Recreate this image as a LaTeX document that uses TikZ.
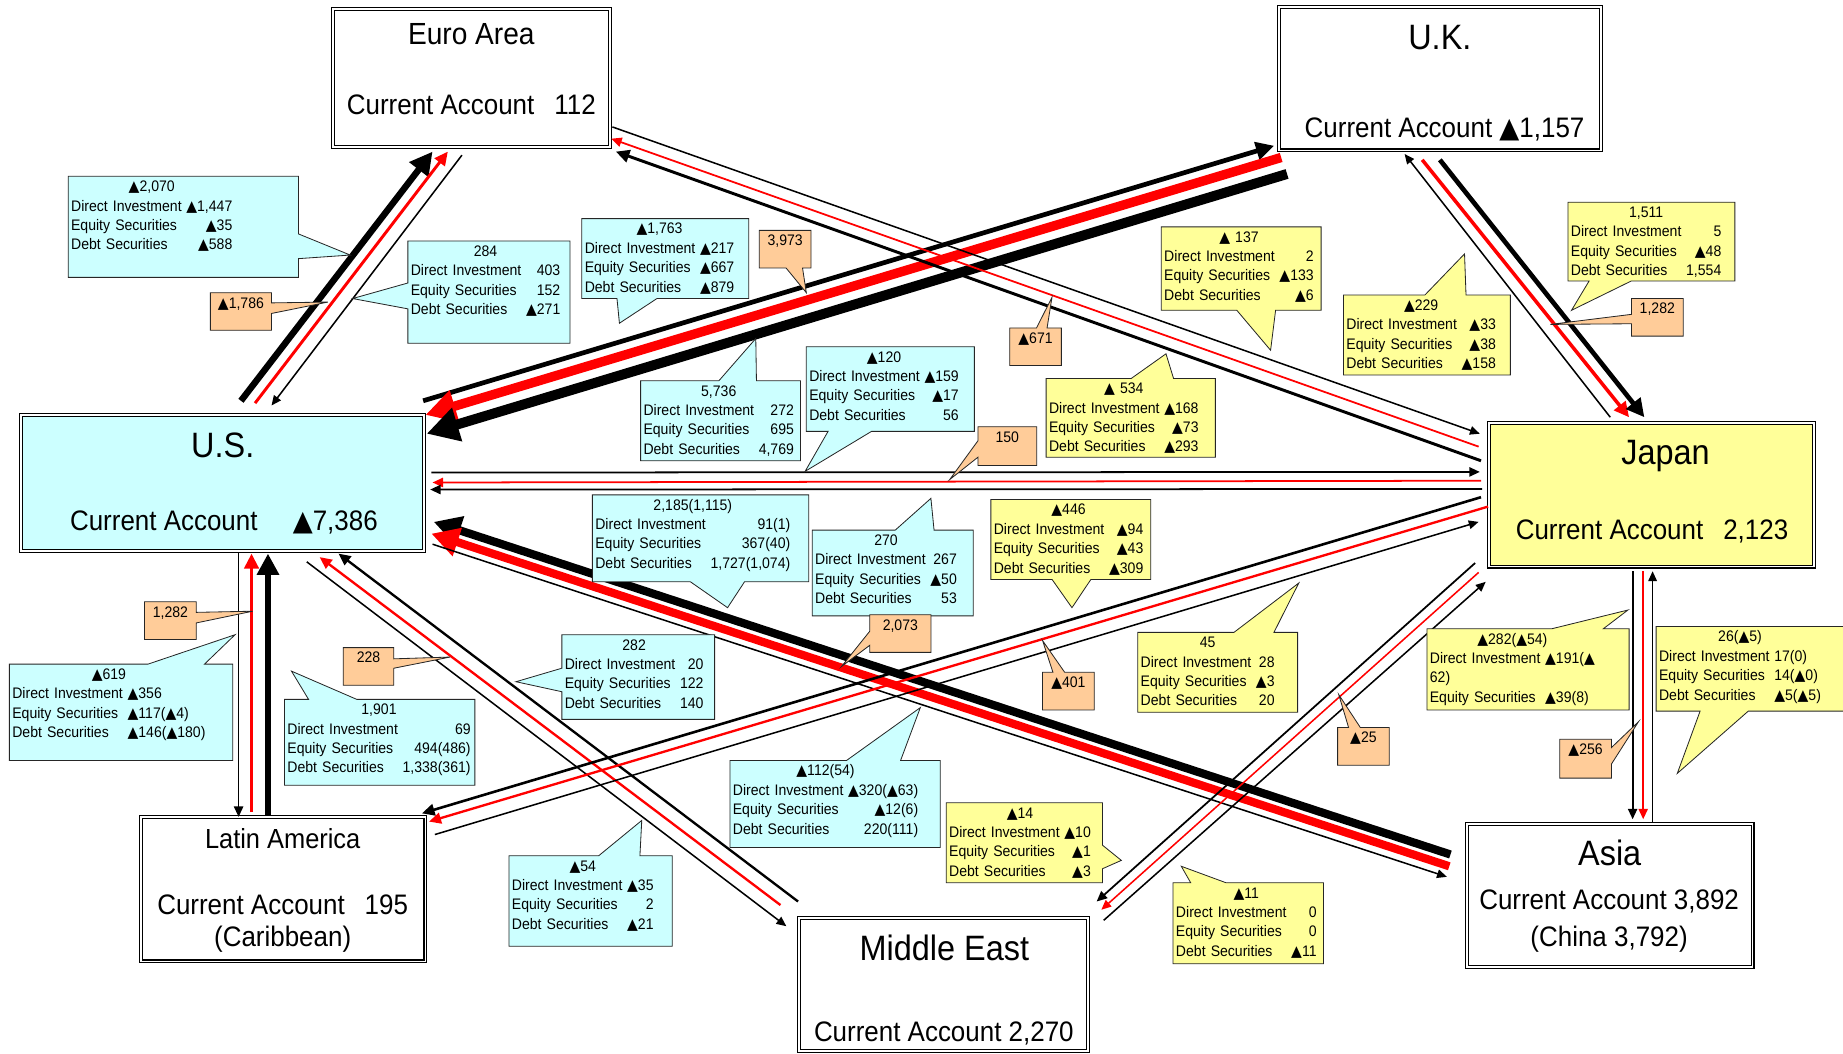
\documentclass[tikz,border=0pt]{standalone}
\usepackage{fontspec}
\usepackage{newunicodechar}
\setmainfont{Liberation Sans}[FakeStretch=0.92]
\newfontfamily\trifont{DejaVu Sans}[FakeStretch=0.92]
\newunicodechar{▲}{{\trifont\symbol{"25B2}}}
\usetikzlibrary{arrows.meta,shapes.callouts,positioning}

\definecolor{cyanfill}{HTML}{CCFFFF}
\definecolor{yellowfill}{HTML}{FFFF99}
\definecolor{orangefill}{HTML}{FFCC99}

\newcommand\flowtab[5][r]{%
  \begin{tabular}[t]{@{}l@{\hspace{4pt}}#1@{}}
    \multicolumn{2}{c}{#2}\\
    Direct Investment & #3\\
    Equity Securities & #4\\
    Debt Securities & #5
  \end{tabular}}

\begin{document}
\begin{tikzpicture}[
    x=1pt, y=-1pt,
    region/.style={draw, double, double distance=1.6pt, line width=0.9pt, inner sep=0pt, outer sep=0pt, fill=white},
    rname/.style={anchor=base, font=\fontsize{30}{30}\selectfont},
    racct/.style={anchor=base, font=\fontsize{24}{24}\selectfont},
    flowline/.style={-{Triangle[length=5pt 2.6, width=3.5pt 2.9]}},
    callbase/.style={rectangle callout, draw=black!85, line width=0.7pt, anchor=north west, outer sep=0pt,
        inner xsep=2.5pt, inner ysep=1.5pt, text height=11.55pt,
        font=\fontsize{13}{16.5}\selectfont, callout pointer width=32pt},
    cyanbox/.style={callbase, fill=cyanfill, align=left},
    yellowbox/.style={callbase, fill=yellowfill, align=left},
    orangebox/.style={callbase, fill=orangefill, align=center, callout pointer width=10pt}
]
    \useasboundingbox (0,0) rectangle (1568,896);

    % Regions
    \node[region, minimum width=236pt, minimum height=117pt] (euro) at (401,66.5) {};
    \node[region, minimum width=274pt, minimum height=122pt] (uk) at (1225,67) {};
    \node[region, fill=cyanfill, minimum width=343pt, minimum height=116pt] (us) at (189.5,411) {};
    \node[region, fill=yellowfill, minimum width=276pt, minimum height=122pt] (japan) at (1405,421) {};
    \node[region, minimum width=242pt, minimum height=123pt] (latam) at (241,756.5) {};
    \node[region, minimum width=246pt, minimum height=113pt] (mideast) at (803,837.5) {};
    \node[region, minimum width=243pt, minimum height=122pt] (asia) at (1369.5,762) {};

    \node[rname, font=\fontsize{26}{26}\selectfont] (euro-name) at (401,38) {Euro Area};
    \node[racct] (euro-ca) at (401,97) {Current Account\hspace{17pt}112};
    \node[rname] (uk-name) at (1225,42) {U.K.};
    \node[racct] (uk-ca) at (1229,117) {Current Account ▲1,157};
    \node[rname] (us-name) at (189.5,389) {U.S.};
    \node[racct] (us-ca) at (190.5,451) {Current Account\hspace{30pt}▲7,386};
    \node[rname] (japan-name) at (1417,395.5) {Japan};
    \node[racct] (japan-ca) at (1405.5,459) {Current Account\hspace{17pt}2,123};
    \node[rname, font=\fontsize{23.5}{23.5}\selectfont] (latam-name) at (240.5,722) {Latin America};
    \node[racct] (latam-ca) at (240.5,778) {Current Account\hspace{17pt}195};
    \node[racct] (latam-sub) at (240.5,805.5) {(Caribbean)};
    \node[rname] (mideast-name) at (803.5,817) {Middle East};
    \node[racct] (mideast-ca) at (803,886.5) {Current Account 2,270};
    \node[rname] (asia-name) at (1369.5,736) {Asia};
    \node[racct] (asia-ca) at (1369,774) {Current Account 3,892};
    \node[racct] (asia-sub) at (1369,805) {(China 3,792)};

    % Flows: U.S. -- Euro Area
    \draw[flowline, line width=5.5pt] ([shift={(15.5,-12)}]us.north) -- ([shift={(-33,4)}]euro.south);
    \draw[flowline, red, line width=2.5pt] ([shift={(27.5,-10)}]us.north) -- ([shift={(-20,4)}]euro.south);
    \draw[flowline, line width=1.3pt] ([shift={(-8,7)}]euro.south) -- ([shift={(41.5,-8)}]us.north);
    % U.S. -- U.K.
    \draw[flowline, line width=4pt] ([shift={(-1,-12)}]us.north east) -- ([shift={(-4,-4)}]uk.south west);
    \draw[flowline, red, line width=8pt] ([shift={(2,6)}]uk.south west) -- ([shift={(1,0)}]us.north east);
    \draw[flowline, line width=8.5pt] ([shift={(7,20)}]uk.south west) -- ([shift={(2,16)}]us.north east);
    % U.S. -- Japan
    \draw[flowline, line width=1.5pt] ([shift={(6,-9)}]us.east) -- ([shift={(-8,-19.5)}]japan.west);
    \draw[flowline, red, line width=1.5pt] ([shift={(-7,-12)}]japan.west) -- ([shift={(7,-0.5)}]us.east);
    \draw[flowline, line width=1.5pt] ([shift={(-6,-5)}]japan.west) -- ([shift={(5,5.5)}]us.east);
    % U.S. -- Asia
    \draw[flowline, line width=7pt] ([shift={(-14,-35)}]asia.west) -- ([shift={(8,33)}]us.east);
    \draw[flowline, red, line width=7pt] ([shift={(-15,-25)}]asia.west) -- ([shift={(6,43)}]us.east);
    \draw[flowline, line width=1.3pt] ([shift={(7,52)}]us.east) -- ([shift={(-17,-16)}]asia.west);
    % U.S. -- Latin America
    \draw[flowline, line width=1.5pt] ([shift={(13.5,1)}]us.south) -- ([shift={(-38,0)}]latam.north);
    \draw[flowline, red, line width=3pt] ([shift={(-27,-4)}]latam.north) -- ([shift={(24.5,2)}]us.south);
    \draw[flowline, line width=5pt] ([shift={(-13,-2)}]latam.north) -- ([shift={(38.5,2)}]us.south);
    % U.S. -- Middle East
    \draw[flowline, line width=1.3pt] ([shift={(-100,9)}]us.south east) -- ([shift={(-11,7)}]mideast.north west);
    \draw[flowline, red, line width=2pt] ([shift={(-16,-11)}]mideast.north west) -- ([shift={(-89,5)}]us.south east);
    \draw[flowline, line width=2pt] ([shift={(-1,-14)}]mideast.north west) -- ([shift={(-73,2)}]us.south east);
    % Euro Area -- Japan
    \draw[flowline, line width=1.3pt] ([shift={(2,-17)}]euro.south east) -- ([shift={(-8,9)}]japan.north west);
    \draw[flowline, red, line width=1.5pt] ([shift={(-9,20)}]japan.north west) -- ([shift={(1,-7)}]euro.south east);
    \draw[flowline, line width=2.5pt] ([shift={(-7,32)}]japan.north west) -- ([shift={(5,4)}]euro.south east);
    % U.K. -- Japan
    \draw[flowline, line width=1.3pt] ([shift={(-35,-5)}]japan.north) -- ([shift={(-30,3)}]uk.south);
    \draw[flowline, red, line width=3pt] ([shift={(-15,8)}]uk.south) -- ([shift={(-19,-5)}]japan.north);
    \draw[flowline, line width=4pt] ([shift={(0,8)}]uk.south) -- ([shift={(-6,-5)}]japan.north);
    % Japan -- Latin America
    \draw[flowline, line width=2.2pt] ([shift={(-7,2)}]japan.west) -- ([shift={(-3,-3)}]latam.north east);
    \draw[flowline, red, line width=2pt] ([shift={(-1,10)}]japan.west) -- ([shift={(3,4)}]latam.north east);
    \draw[flowline, line width=1.3pt] ([shift={(8,15)}]latam.north east) -- ([shift={(-9,23)}]japan.west);
    % Japan -- Middle East
    \draw[flowline, line width=1.5pt] ([shift={(-12,-3)}]japan.south west) -- ([shift={(7,-14)}]mideast.north east);
    \draw[flowline, red, line width=1.3pt] ([shift={(-9,5)}]japan.south west) -- ([shift={(11,-7)}]mideast.north east);
    \draw[flowline, line width=1.3pt] ([shift={(13,2)}]mideast.north east) -- ([shift={(-3,13)}]japan.south west);
    % Japan -- Asia
    \draw[flowline, line width=1.5pt] ([shift={(-16,4)}]japan.south) -- ([shift={(19.5,-4)}]asia.north);
    \draw[flowline, red, line width=1.5pt] ([shift={(-7,4)}]japan.south) -- ([shift={(28.5,-4)}]asia.north);
    \draw[flowline, line width=1.3pt] ([shift={(36.5,-1)}]asia.north) -- ([shift={(1,4)}]japan.south);

    % Callouts: U.S. -- Euro Area
    \node[cyanbox, text width=191pt, text depth=71.45pt, callout pointer width=21pt, callout absolute pointer={(298,217)}] (us-to-euro) at (58,150) {\flowtab{▲2,070}{▲1,447}{▲35}{▲588}};
    \node[cyanbox, text width=133pt, text depth=72.45pt, callout pointer width=22pt, callout absolute pointer={(300,254)}] (euro-to-us) at (347,205) {\flowtab{284}{403}{152}{▲271}};
    \node[orangebox, text width=47pt, text depth=17.45pt, callout pointer width=9pt, callout absolute pointer={(279,257)}] (net-euro) at (179,249) {▲1,786};
    % U.S. -- U.K.
    \node[cyanbox, text width=137pt, text depth=53.45pt, callout pointer width=34pt, callout absolute pointer={(527,275)}] (us-to-uk) at (495,186) {\flowtab{▲1,763}{▲217}{▲667}{▲879}};
    \node[cyanbox, text width=131pt, text depth=53.45pt, callout absolute pointer={(643,288)}] (uk-to-us) at (545,324) {\flowtab{5,736}{272}{695}{4,769}};
    \node[orangebox, text width=39pt, text depth=17.45pt, callout pointer width=14pt, callout absolute pointer={(686,249)}] (net-uk) at (646,196) {3,973};
    % U.S. -- Japan
    \node[cyanbox, text width=138pt, text depth=57.45pt, callout pointer width=37pt, callout absolute pointer={(685,401)}] (us-to-japan) at (686,295) {\flowtab{▲120}{▲159}{▲17}{56}};
    \node[cyanbox, text width=132pt, text depth=58.45pt, callout pointer width=33pt, callout absolute pointer={(792,424)}] (japan-to-us) at (691,451) {\flowtab{270}{267}{▲50}{53}};
    \node[orangebox, text width=45pt, text depth=18.45pt, callout pointer width=14pt, callout absolute pointer={(808,408)}] (net-japan) at (832,363) {150};
    % U.S. -- Asia
    \node[cyanbox, text width=179pt, text depth=59.45pt, callout pointer width=46pt, callout absolute pointer={(619,517)}] (asia-to-us) at (504,421) {\flowtab{2,185(1,115)}{91(1)}{367(40)}{1,727(1,074)}};
    \node[cyanbox, text width=174pt, text depth=59.45pt, callout pointer width=46pt, callout absolute pointer={(783,602)}] (us-to-asia) at (621,647) {\flowtab{▲112(54)}{▲320(▲63)}{▲12(6)}{220(111)}};
    \node[orangebox, text width=47pt, text depth=17.45pt, callout pointer width=12pt, callout absolute pointer={(716,567)}] (net-asia) at (740,523) {2,073};
    % U.S. -- Latin America
    \node[cyanbox, text width=185pt, text depth=67.45pt, callout pointer width=48pt, callout absolute pointer={(200,540)}] (us-to-latam) at (8,565) {\flowtab[l]{▲619}{▲356}{▲117(▲4)}{▲146(▲180)}};
    \node[cyanbox, text width=157pt, text depth=58.45pt, callout pointer width=41pt, callout absolute pointer={(248,571)}] (latam-to-us) at (242,595) {\flowtab{1,901}{69}{494(486)}{1,338(361)}};
    \node[orangebox, text width=39pt, text depth=17.45pt, callout pointer width=9pt, callout absolute pointer={(215,520)}] (net-latam) at (123,512) {1,282};
    % U.S. -- Middle East
    \node[cyanbox, text width=125pt, text depth=57.45pt, callout pointer width=20pt, callout absolute pointer={(439,580)}] (mideast-to-us) at (478,540) {\flowtab{282}{20}{122}{140}};
    \node[cyanbox, text width=134pt, text depth=62.45pt, callout pointer width=35pt, callout absolute pointer={(546,698)}] (us-to-mideast) at (433,728) {\flowtab{▲54}{▲35}{2}{▲21}};
    \node[orangebox, text width=38pt, text depth=17.45pt, callout pointer width=8pt, callout absolute pointer={(383,559)}] (net-mideast) at (292,551) {228};
    % Euro Area -- Japan
    \node[yellowbox, text width=131pt, text depth=56.45pt, callout pointer width=33pt, callout absolute pointer={(1081,298)}] (jp-to-euro) at (988,193) {\flowtab{▲ 137}{2}{▲133}{▲6}};
    \node[yellowbox, text width=139pt, text depth=52.45pt, callout pointer width=36pt, callout absolute pointer={(992,301)}] (euro-to-jp) at (890,322) {\flowtab{▲ 534}{▲168}{▲73}{▲293}};
    \node[orangebox, text width=39pt, text depth=17.45pt, callout pointer width=9pt, callout absolute pointer={(895,253)}] (net-jp-euro) at (859,279) {▲671};
    % U.K. -- Japan
    \node[yellowbox, text width=137pt, text depth=52.45pt, callout pointer width=36pt, callout absolute pointer={(1337,264)}] (uk-to-jp) at (1334,172) {\flowtab{1,511}{5}{▲48}{1,554}};
    \node[yellowbox, text width=137pt, text depth=53.45pt, callout pointer width=35pt, callout absolute pointer={(1246,216)}] (jp-to-uk) at (1143,251) {\flowtab{▲229}{▲33}{▲38}{▲158}};
    \node[orangebox, text width=39pt, text depth=17.45pt, callout pointer width=8pt, callout absolute pointer={(1319,276)}] (net-jp-uk) at (1388,254) {1,282};
    % Japan -- Latin America
    \node[yellowbox, text width=131pt, text depth=53.45pt, callout pointer width=33pt, callout absolute pointer={(912,517)}] (jp-to-latam) at (843,425) {\flowtab{▲446}{▲94}{▲43}{▲309}};
    \node[yellowbox, text width=131pt, text depth=53.45pt, callout pointer width=34pt, callout absolute pointer={(1105,496)}] (latam-to-jp) at (968,538) {\flowtab{45}{28}{▲3}{20}};
    \node[orangebox, text width=39pt, text depth=17.45pt, callout absolute pointer={(887,545)}] (net-jp-latam) at (887,572) {▲401};
    % Japan -- Middle East
    \node[yellowbox, text width=128pt, text depth=53.45pt, callout pointer width=20pt, callout absolute pointer={(954,732)}] (jp-to-mideast) at (805,683) {\flowtab{▲14}{▲10}{▲1}{▲3}};
    \node[yellowbox, text width=123pt, text depth=54.45pt, callout pointer width=30pt, callout absolute pointer={(1005,737)}] (mideast-to-jp) at (998,751) {\flowtab{▲11}{0}{0}{▲11}};
    \node[orangebox, text width=39pt, text depth=17.45pt, callout absolute pointer={(1139,591)}] (net-jp-mideast) at (1138,619) {▲25};
    % Japan -- Asia
    \node[yellowbox, text width=167pt, text depth=54.45pt, callout pointer width=44pt, callout absolute pointer={(1385,519)}] (jp-to-asia) at (1214,535)
        {\begin{tabular}[t]{@{}l@{\hspace{4pt}}l@{}}
           \multicolumn{2}{c}{▲282(▲54)}\\
           Direct Investment & ▲191(▲\\
           \multicolumn{2}{@{}l}{62)}\\
           Equity Securities & ▲39(8)
         \end{tabular}};
    \node[yellowbox, text width=165pt, text depth=57.45pt, callout pointer width=41pt, callout absolute pointer={(1427,658)}] (asia-to-jp) at (1409,533) {\flowtab[l]{26(▲5)}{17(0)}{14(▲0)}{▲5(▲5)}};
    \node[orangebox, text width=39pt, text depth=18.45pt, callout pointer width=14pt, callout absolute pointer={(1394,614)}] (net-jp-asia) at (1327,629) {▲256};
\end{tikzpicture}
\end{document}
